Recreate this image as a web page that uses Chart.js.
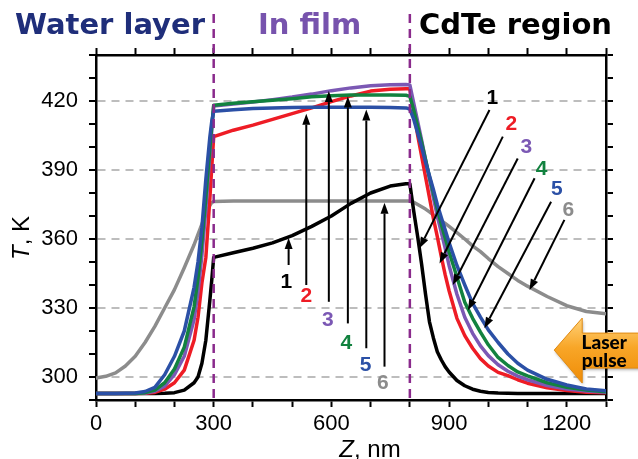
<!DOCTYPE html>
<html><head><meta charset="utf-8">
<script src="https://cdn.jsdelivr.net/npm/chart.js@4.4.1/dist/chart.umd.min.js"></script>
<style>html,body{margin:0;padding:0;background:#fff;overflow:hidden}</style>
</head><body>
<canvas id="c" width="638" height="459"></canvas>
<script>
// ---------- data ----------
const zNm = [0,25,50,75,100,125,150,175,200,225,250,260,270,280,290,295,300,350,400,450,500,550,600,650,700,750,790,800,810,820,830,840,850,860,870,880,890,900,920,940,960,980,1000,1025,1050,1075,1100,1150,1200,1250,1300];
const tCurve1 = [292.8,292.8,292.8,292.8,292.8,292.8,292.8,292.9,293.2,294.3,297.5,300,306,316,333,342,352,354,356,358.3,361.5,365.5,370,375.5,380,383,384,384,372,361,349,336,324,317,311,307.5,304.5,302.2,298.5,296.2,294.7,293.8,293.3,293,292.9,292.8,292.8,292.8,292.8,292.8,292.8];
const tCurve2 = [292.8,292.8,292.8,292.8,292.8,292.9,293.3,294.7,297.5,303,316,326,341,352,377,391,404.5,407.3,409.5,412,414.5,417,419.7,422.2,424.3,425.1,425.3,425.3,416,405,396,387,378,369,361,352.5,344.5,337.5,325.5,318,312.5,308,304.8,302,300.6,298.8,297.3,295.3,294.1,293.4,293.1];
const tCurve3 = [292.8,292.8,292.8,292.8,292.8,293,293.8,296,301,309,325,337,353,373,396,407,417.8,418.7,419.6,420.6,421.7,423,424.5,425.7,426.6,427.1,427.2,427,419,411,403,394.5,386,378,370,363,356,348.5,336,326,319,313.5,309.3,305.3,302.5,300.4,298.8,296.3,294.8,293.9,293.4];
const tCurve4 = [292.8,292.8,292.8,292.8,292.8,293.2,294.3,297.5,303.5,313,330.5,343,359,378,399,409,418.2,419,419.7,420.3,421,421.8,422.3,422.6,422.6,422.6,422.5,422,416,409,402,394.5,387,380,373,366.5,360.5,354.5,343.5,332.5,325.5,319.5,314,308.5,305,302.2,300.5,297.5,295.5,294.3,293.6];
const tCurve5 = [292.8,292.8,292.8,292.9,293,293.7,295.5,301,309,320,339,350,365,386,404,411,415.5,416.2,416.7,417,417.2,417.3,417.3,417.3,417.3,417.2,417,416.5,412,406,400,393.5,387.5,381.5,375,369.5,364,358.5,348.5,340,332,326,320.5,315,310,306,303,299,296.5,294.8,294];
const tCurve6 = [299.5,300.3,301.8,304.8,309,315,322,330,338,347.5,357.5,362,366.5,371,374.5,375.8,376.3,376.5,376.5,376.5,376.5,376.5,376.5,376.5,376.5,376.5,376.5,376.5,376,375,374,373,371.8,370.5,369.2,368,366.8,365.5,362.8,360,357,354.5,351.5,348,345,342,339.5,335,331,328.5,327.5];
const seriesLabels = ['1','2','3','4','5','6'];
const xTickLabels = [0,300,600,900,1200];
const yTickLabels = [300,330,360,390,420];
const regionBounds = [300,800];
const regionTitles = ['Water layer','In film','CdTe region'];
// vertical arrows: [Z, tail T, tip T], label at [Z, T]
const upArrows = [[491,348.7,360.4],[536,340,414.5],[593.5,332.7,424.3],[642,323.3,422],[689,312.5,416.3],[735.4,304.5,375.8]];
const upLabels = [[485,341.4],[536,335.3],[591,324.8],[638,314.7],[687,305.2],[731,297.3]];
// slanted arrows: [tail Z, tail T, tip Z, tip T], label at [Z, T]
const slantArrows = [[1003,416.1,824.6,356],[1037,404.5,875.6,349.4],[1075,395,909.5,340],[1118,386.4,948,329],[1160,376.2,990,321.2],[1194,368.3,1105,337.8]];
const slantLabels = [[1010,421],[1059,409.7],[1097,399.9],[1136,390.2],[1175,381.5],[1204,372.7]];
const pulseAnchor = [1168,311.7];
const pulseText = ['Laser','pulse'];

// ---------- styles ----------
const colors = ['#000000','#ee1c25','#7b58b4','#12823f','#2b50a6','#8c8c8c'];
const titleColors = ['#1f2e7a','#7753ad','#000000'];
const curves = [tCurve1,tCurve2,tCurve3,tCurve4,tCurve5,tCurve6];
const drawOrder = [4,3,2,1,0,5]; // first = on top

const datasets = drawOrder.map(i => ({
  label: seriesLabels[i],
  data: zNm.map((z,k) => ({x:z, y:curves[i][k]})),
  showLine: true, pointRadius: 0, borderColor: colors[i], borderWidth: 3.5,
  tension: 0, borderJoinStyle: 'round', borderCapStyle: 'round'
}));

function arrow(ctx,x1,y1,x2,y2){
  const a=Math.atan2(y2-y1,x2-x1), L=11, W=4;
  const bx=x2-L*Math.cos(a), by=y2-L*Math.sin(a);
  ctx.beginPath(); ctx.moveTo(x1,y1); ctx.lineTo(bx,by); ctx.stroke();
  ctx.beginPath(); ctx.moveTo(x2,y2);
  ctx.lineTo(bx+W*Math.sin(a), by-W*Math.cos(a));
  ctx.lineTo(bx-W*Math.sin(a), by+W*Math.cos(a));
  ctx.closePath(); ctx.fill();
}

const overlay = {
  id:'overlay',
  afterDatasetsDraw(chart){
    const {ctx, scales:{x,y}, chartArea} = chart;
    ctx.save();
    ctx.strokeStyle='#8a2a8c'; ctx.lineWidth=2.5; ctx.setLineDash([9,6]);
    regionBounds.forEach(b=>{const px=x.getPixelForValue(b); ctx.beginPath(); ctx.moveTo(px,14); ctx.lineTo(px,chartArea.bottom); ctx.stroke();});
    ctx.setLineDash([]);
    ctx.strokeStyle='#000'; ctx.fillStyle='#000'; ctx.lineWidth=2;
    upArrows.forEach(a=>{const px=x.getPixelForValue(a[0]); arrow(ctx,px,y.getPixelForValue(a[1]),px,y.getPixelForValue(a[2]));});
    slantArrows.forEach(a=>arrow(ctx,x.getPixelForValue(a[0]),y.getPixelForValue(a[1]),x.getPixelForValue(a[2]),y.getPixelForValue(a[3])));
    ctx.font='bold 21px "Liberation Sans", Arial, sans-serif'; ctx.textAlign='center'; ctx.textBaseline='middle';
    seriesLabels.forEach((s,i)=>{
      ctx.fillStyle=colors[i];
      ctx.fillText(s, x.getPixelForValue(upLabels[i][0]), y.getPixelForValue(upLabels[i][1]));
      ctx.fillText(s, x.getPixelForValue(slantLabels[i][0]), y.getPixelForValue(slantLabels[i][1]));
    });
    ctx.restore();
  },
  afterDraw(chart){
    const {ctx, scales:{x,y}, chartArea, width} = chart;
    ctx.save();
    ctx.font='bold 29px "DejaVu Sans", Verdana, sans-serif'; ctx.textBaseline='alphabetic'; ctx.textAlign='left';
    const tx=[15,258,419];
    regionTitles.forEach((t,i)=>{ctx.fillStyle=titleColors[i]; ctx.fillText(t,tx[i],34);});
    ctx.fillStyle='#000';
    const fI='italic 24px "Liberation Sans", Arial, sans-serif', fN='24px "Liberation Sans", Arial, sans-serif';
    ctx.font=fI; const wz=ctx.measureText('Z').width; ctx.font=fN; const wr=ctx.measureText(', nm').width;
    let sx=370-(wz+wr)/2;
    ctx.textBaseline='middle';
    ctx.font=fI; ctx.fillText('Z',sx,450); ctx.font=fN; ctx.fillText(', nm',sx+wz,450);
    ctx.translate(22,238); ctx.rotate(-Math.PI/2);
    ctx.font=fI; const wt=ctx.measureText('T').width; ctx.font=fN; const wk=ctx.measureText(', K').width;
    let sy=-(wt+wk)/2;
    ctx.font=fI; ctx.fillText('T',sy,0); ctx.font=fN; ctx.fillText(', K',sy+wt,0);
    ctx.restore();
    // laser pulse callout
    ctx.save();
    const px=x.getPixelForValue(pulseAnchor[0]), py=y.getPixelForValue(pulseAnchor[1]);
    const hx=px+28, right=width+5;
    ctx.beginPath();
    ctx.moveTo(px,py); ctx.lineTo(hx,py-32); ctx.lineTo(hx,py-17); ctx.lineTo(right,py-17);
    ctx.lineTo(right,py+18); ctx.lineTo(hx,py+18); ctx.lineTo(hx,py+33); ctx.closePath();
    const g=ctx.createLinearGradient(0,py-32,0,py+33);
    g.addColorStop(0,'#ffd27a'); g.addColorStop(0.45,'#f8a628'); g.addColorStop(1,'#ef8c06');
    ctx.shadowColor='rgba(0,0,0,0.3)'; ctx.shadowBlur=3; ctx.shadowOffsetX=1; ctx.shadowOffsetY=2;
    ctx.fillStyle=g; ctx.fill();
    ctx.shadowColor='transparent';
    ctx.strokeStyle='#e08a12'; ctx.lineWidth=1; ctx.stroke();
    ctx.fillStyle='#000'; ctx.font='900 19px Lato, "Liberation Sans", sans-serif'; ctx.textAlign='center'; ctx.textBaseline='middle';
    ctx.fillText(pulseText[0], px+50, py-7); ctx.fillText(pulseText[1], px+50, py+11);
    ctx.restore();
  }
};

const tickFont = {family:'"Liberation Sans", Arial, sans-serif', size:22};
const baseX = {type:'linear', min:0, max:1300,
  ticks:{stepSize:100, autoSkip:false, maxRotation:0, font:tickFont, color:'#000', padding:4,
    callback:v=>xTickLabels.includes(v)?String(v):''},
  grid:{drawOnChartArea:false, tickLength:7, tickColor:'#000', tickWidth:2},
  border:{color:'#000', width:2.5}};
const baseY = {type:'linear', min:290, max:440,
  ticks:{stepSize:10, autoSkip:false, font:tickFont, color:'#000', padding:11,
    callback:v=>yTickLabels.includes(v)?String(v):''},
  grid:{tickLength:7, tickColor:'#000', tickWidth:2, lineWidth:2,
    color:c=>(c.tick && yTickLabels.includes(c.tick.value))?'#bdbdbd':'rgba(0,0,0,0)'},
  border:{color:'#000', width:2.5, dash:[8,6]}};

new Chart(document.getElementById('c'), {
  type:'scatter',
  data:{datasets},
  options:{
    responsive:false, animation:false, devicePixelRatio:1,
    layout:{padding:0},
    plugins:{legend:{display:false}, tooltip:{enabled:false}, title:{display:false}},
    scales:{
      x:{...baseX, position:'bottom', afterFit:s=>{s.height=59;}},
      x2:{...baseX, position:'top', ticks:{...baseX.ticks, display:false}, afterFit:s=>{s.height=55;}},
      y:{...baseY, position:'left', afterFit:s=>{s.width=96;}},
      y2:{...baseY, position:'right', ticks:{...baseY.ticks, display:false},
        grid:{...baseY.grid, drawOnChartArea:false}, afterFit:s=>{s.width=32;}}
    }
  },
  plugins:[overlay]
});
</script>
</body></html>
